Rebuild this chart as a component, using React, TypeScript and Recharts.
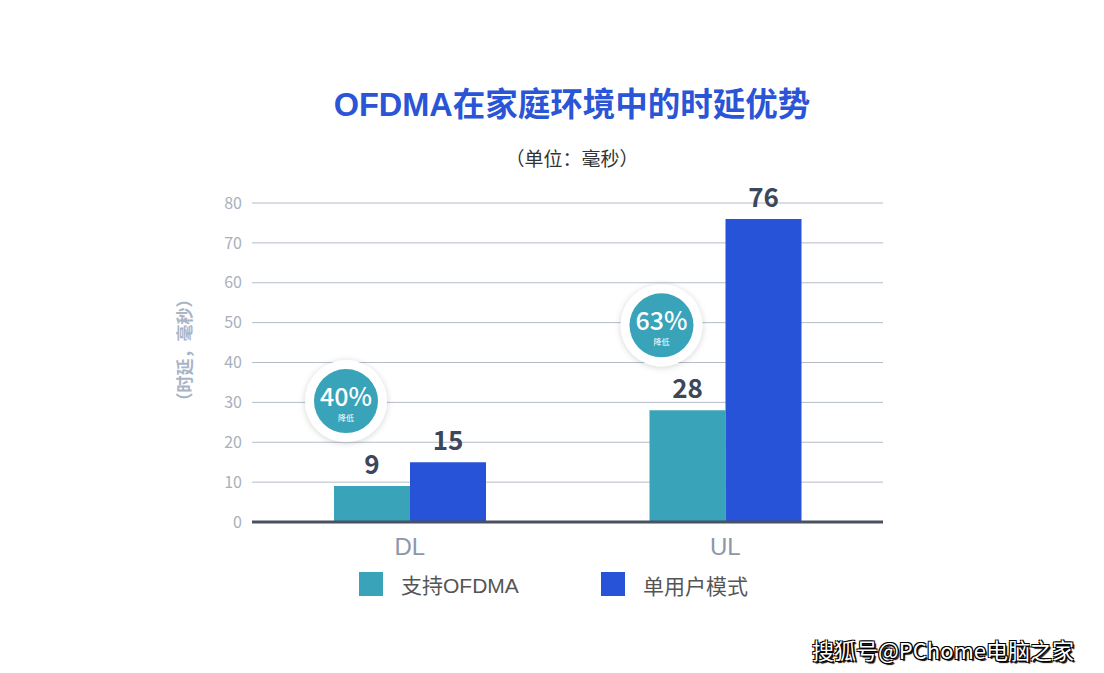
import React from 'react';
import { BarChart, Bar, XAxis, YAxis, CartesianGrid, LabelList } from 'recharts';

const categories = ['DL', 'UL'];
const ofdmaValues = [9, 28];
const singleUserValues = [15, 76];
const reductionLabels = ['40%', '63%'];
const yTicks = [0, 10, 20, 30, 40, 50, 60, 70, 80];

const TEAL = '#38a3b9';
const BLUE = '#2753d9';
const FONT = '"Noto Sans CJK SC", "Noto Sans", sans-serif';
const ARIAL = '"Liberation Sans", "Noto Sans CJK SC", sans-serif';

const data = categories.map((name, i) => ({
  name,
  ofdma: ofdmaValues[i],
  single: singleUserValues[i],
  badge: reductionLabels[i],
}));

function ValueLabel(props: any) {
  const { x, y, width, value } = props;
  return (
    <text
      x={x + width / 2}
      y={y - 12}
      textAnchor="middle"
      fontFamily={FONT}
      fontSize={26}
      fontWeight={700}
      fill="#3b475b"
    >
      {value}
    </text>
  );
}

function Badge(props: any) {
  const { x, y, index } = props;
  const cx = x + 12;
  const cy = y - 85;
  return (
    <g>
      <defs>
        <filter id={`badge-shadow-${index}`} x="-30%" y="-30%" width="160%" height="160%">
          <feDropShadow dx="0" dy="1" stdDeviation="3" floodColor="#000" floodOpacity="0.18" />
        </filter>
      </defs>
      <circle cx={cx} cy={cy} r={41} fill="#fff" filter={`url(#badge-shadow-${index})`} />
      <circle cx={cx} cy={cy} r={32} fill={TEAL} />
      <text x={cx} y={cy + 5} textAnchor="middle" fontFamily={FONT} fontSize={25} fontWeight={500} fill="#fff">
        {reductionLabels[index]}
      </text>
      <text x={cx} y={cy + 20} textAnchor="middle" fontFamily={FONT} fontSize={8} fill="#fff">
        降低
      </text>
    </g>
  );
}

function YLabel() {
  return (
    <text
      x={183}
      y={350}
      transform="rotate(-90 183 350)"
      textAnchor="middle"
      dominantBaseline="central"
      fontFamily={FONT}
      fontSize={17}
      fontWeight={700}
      fill="#a9b4c6"
    >
      （时延，毫秒）
    </text>
  );
}

export default function App() {
  return (
    <div style={{ position: 'absolute', left: 0, top: 0, width: 1104, height: 673, background: '#fff', fontFamily: FONT }}>
      <div style={{ position: 'absolute', left: 0, width: 1144, top: 78, textAlign: 'center', fontSize: 32.5, fontWeight: 700, color: '#2a55d6', fontFamily: ARIAL }}>
        OFDMA在家庭环境中的时延优势
      </div>
      <div style={{ position: 'absolute', left: 0, width: 1144, top: 144, textAlign: 'center', fontSize: 19, color: '#333' }}>
        （单位：毫秒）
      </div>
      <BarChart
        width={1104}
        height={673}
        data={data}
        margin={{ top: 203, right: 221, bottom: 111, left: 192 }}
        barGap={0}
        barSize={76}
      >
        <CartesianGrid horizontal vertical={false} stroke="#b4bcc8" strokeWidth={1} />
        <XAxis
          dataKey="name"
          height={40}
          tickLine={false}
          axisLine={{ stroke: '#4a5160', strokeWidth: 3 }}
          tick={{ fontSize: 24, fill: '#8e97a8', fontFamily: ARIAL, dy: 8 }}
        />
        <YAxis
          width={60}
          domain={[0, 80]}
          ticks={yTicks}
          tickLine={false}
          axisLine={false}
          tick={{ fontSize: 16, fill: '#a8b0bd', fontFamily: FONT, dx: -2 }}
          label={<YLabel />}
        />
        <Bar dataKey="ofdma" fill={TEAL} isAnimationActive={false}>
          <LabelList dataKey="ofdma" content={<ValueLabel />} />
          <LabelList dataKey="badge" content={<Badge />} />
        </Bar>
        <Bar dataKey="single" fill={BLUE} isAnimationActive={false}>
          <LabelList dataKey="single" content={<ValueLabel />} />
        </Bar>
      </BarChart>
      <div style={{ position: 'absolute', left: 359, top: 572, width: 24, height: 24, background: TEAL }} />
      <div style={{ position: 'absolute', left: 401, top: 569, fontSize: 21, color: '#555', fontFamily: ARIAL }}>支持OFDMA</div>
      <div style={{ position: 'absolute', left: 601, top: 572, width: 24, height: 24, background: BLUE }} />
      <div style={{ position: 'absolute', left: 643, top: 570, fontSize: 21, color: '#555', fontFamily: ARIAL }}>单用户模式</div>
      <div
        style={{
          position: 'absolute',
          left: 812,
          top: 633,
          fontSize: 22,
          color: '#fff',
          textShadow: '1px 1px 0 #000, -1px -1px 0 #000, 1px -1px 0 #000, -1px 1px 0 #000, 2px 2px 1px #000',
        }}
      >
        搜狐号@PChome电脑之家
      </div>
    </div>
  );
}
